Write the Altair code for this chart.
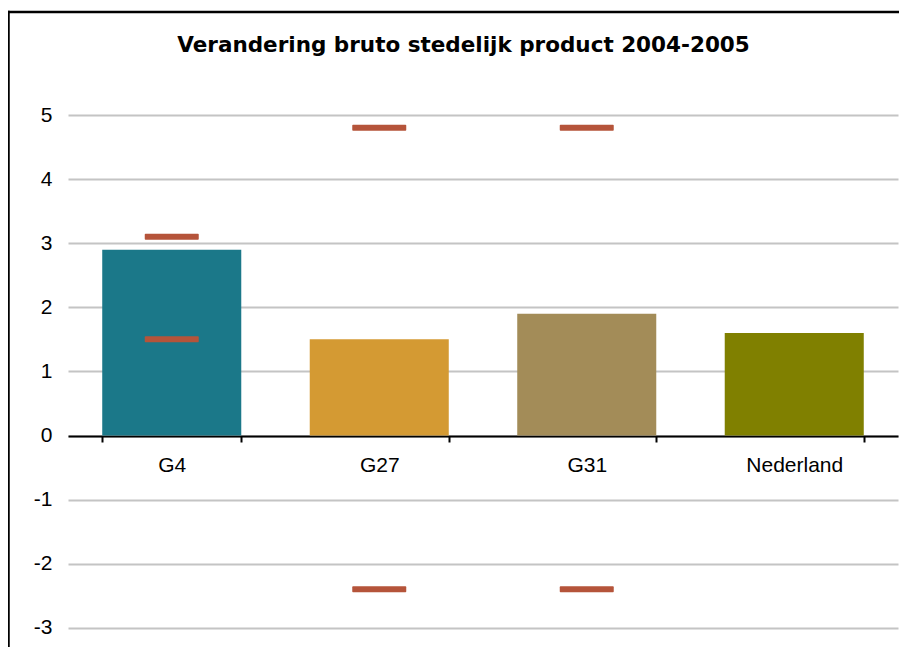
import altair as alt
import pandas as pd

categories = ["G4", "G27", "G31", "Nederland"]
values = [2.9, 1.5, 1.9, 1.6]
bar_colors = ["#1b7889", "#d49a33", "#a38c58", "#808000"]

dash_categories = ["G4", "G4", "G27", "G27", "G31", "G31"]
dash_values = [3.1, 1.5, 4.8, -2.4, 4.8, -2.4]

ytick_values = [-3, -2, -1, 0, 1, 2, 3, 4, 5]

title_text = ["Verandering bruto stedelijk product 2004-2005"]

FONT = "Liberation Sans"

bars_df = pd.DataFrame({"cat": categories, "val": values, "color": bar_colors})
dash_df = pd.DataFrame({"cat": dash_categories, "val": dash_values})
frame_df = pd.DataFrame({"k": [0]})
title_df = pd.DataFrame({"t": title_text})

xscale = alt.Scale(domain=categories, paddingInner=0.33, paddingOuter=0.165)
yscale = alt.Scale(domain=[-3.3, 5.5], nice=False, zero=False)

x_enc = alt.X(
    "cat:N",
    scale=xscale,
    sort=categories,
    title=None,
    axis=alt.Axis(
        orient="bottom",
        offset=-211,
        domainColor="black",
        domainWidth=2,
        tickColor="black",
        tickWidth=2,
        tickSize=6,
        tickBand="extent",
        labelAngle=0,
        labelFont=FONT,
        labelFontSize=21,
        labelColor="black",
        labelPadding=12,
        grid=False,
    ),
)

y_enc = alt.Y(
    "val:Q",
    scale=yscale,
    title=None,
    axis=alt.Axis(
        values=ytick_values,
        labelExpr="'' + datum.value",
        domain=False,
        ticks=False,
        labelFont=FONT,
        labelFontSize=21,
        labelColor="black",
        labelPadding=16,
        grid=True,
        gridColor="#c4c4c4",
        gridWidth=2,
    ),
)

bars = alt.Chart(bars_df).mark_bar().encode(
    x=x_enc,
    y=y_enc,
    color=alt.Color("color:N", scale=None),
)

dashes = alt.Chart(dash_df).mark_tick(
    color="#b5543a", thickness=6, size=54, cornerRadius=1, opacity=1
).encode(
    x=alt.X("cat:N", scale=xscale, sort=categories),
    y=alt.Y("val:Q", scale=yscale),
)

frame_top = alt.Chart(frame_df).mark_rule(
    color="black", strokeWidth=2.5
).encode(
    x=alt.value(-60.75),
    x2=alt.value(831),
    y=alt.value(-71),
)

frame_left = alt.Chart(frame_df).mark_rule(
    color="black", strokeWidth=2.5
).encode(
    x=alt.value(-59.5),
    y=alt.value(-72.25),
    y2=alt.value(564),
)

title = alt.Chart(title_df).mark_text(
    font="DejaVu Sans",
    fontSize=21.5,
    fontWeight="bold",
    color="black",
    align="center",
    baseline="alphabetic",
).encode(
    text="t:N",
    x=alt.value(395.5),
    y=alt.value(-31),
)

chart = alt.layer(frame_top, frame_left, bars, dashes, title).properties(
    width=830,
    height=564,
    background="white",
    autosize=alt.AutoSizeParams(type="none"),
    padding={"left": 60, "top": 75, "right": 1, "bottom": 0},
).configure_view(stroke="transparent", strokeWidth=0)

chart.save("out.html", embed_options={"renderer": "svg", "actions": False})
